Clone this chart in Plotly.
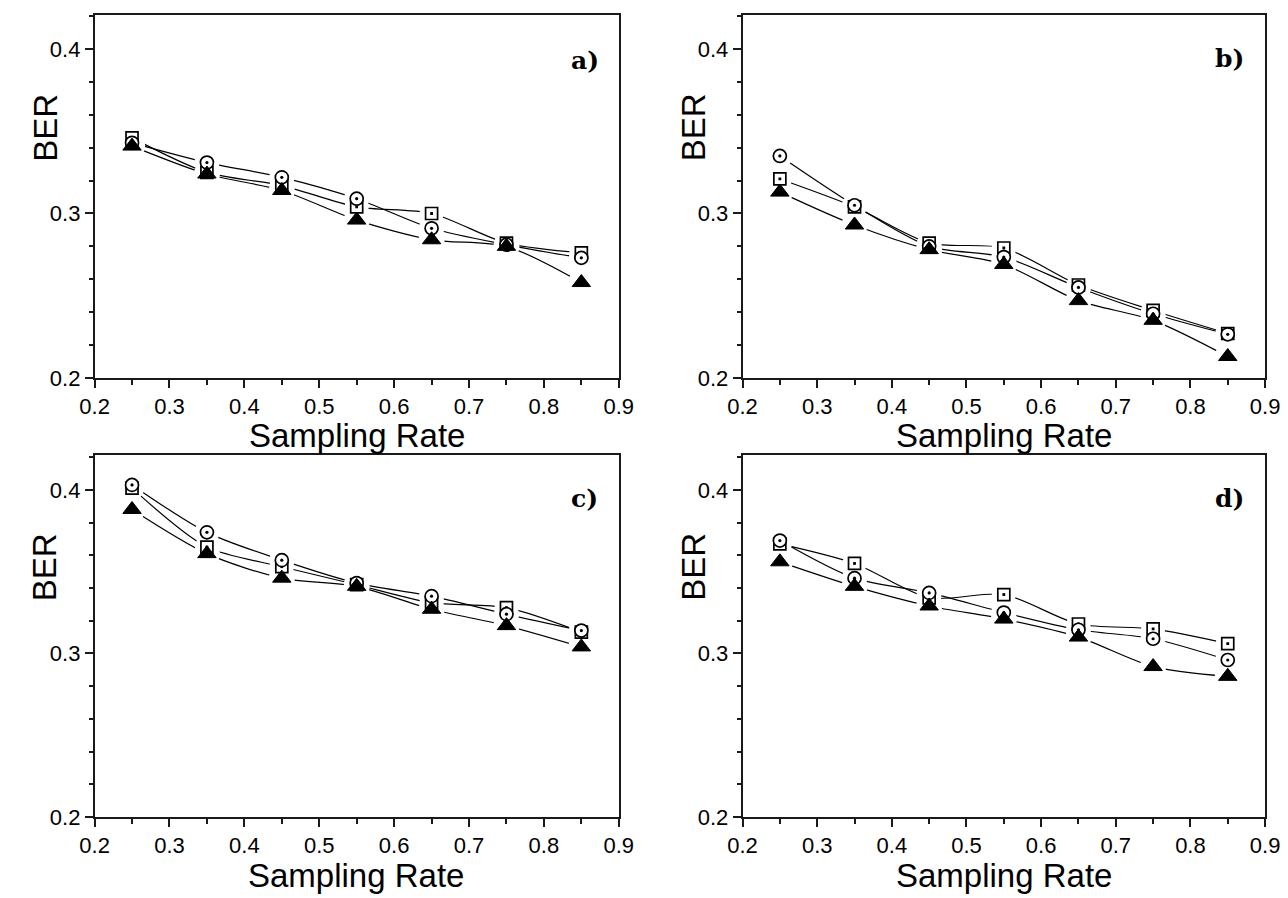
import plotly.graph_objects as go

W, H = 1288, 898

sampling_rate = [0.25, 0.35, 0.45, 0.55, 0.65, 0.75, 0.85]

a_square = [0.346, 0.325, 0.317, 0.304, 0.300, 0.282, 0.276]
a_circle = [0.343, 0.331, 0.322, 0.309, 0.291, 0.281, 0.273]
a_triangle = [0.341, 0.324, 0.314, 0.296, 0.284, 0.280, 0.258]

b_square = [0.321, 0.304, 0.282, 0.279, 0.2565, 0.241, 0.227]
b_circle = [0.335, 0.305, 0.280, 0.2735, 0.255, 0.239, 0.2265]
b_triangle = [0.313, 0.293, 0.278, 0.269, 0.247, 0.235, 0.213]

c_square = [0.401, 0.365, 0.353, 0.342, 0.331, 0.328, 0.313]
c_circle = [0.403, 0.374, 0.357, 0.343, 0.335, 0.324, 0.314]
c_triangle = [0.388, 0.361, 0.346, 0.341, 0.327, 0.317, 0.304]

d_square = [0.367, 0.355, 0.334, 0.336, 0.318, 0.315, 0.306]
d_circle = [0.369, 0.346, 0.337, 0.325, 0.3145, 0.309, 0.296]
d_triangle = [0.356, 0.341, 0.329, 0.321, 0.310, 0.292, 0.286]

panels = [
    ("a)", a_square, a_circle, a_triangle),
    ("b)", b_square, b_circle, b_triangle),
    ("c)", c_square, c_circle, c_triangle),
    ("d)", d_square, d_circle, d_triangle),
]

def px_x(p):
    return p / W

def px_y(p):
    return 1 - p / H

xdom = [[px_x(73.3), px_x(610)], [px_x(736.7), px_x(1271.7)]]
ydom = [[px_y(375.3), px_y(6.7)], [px_y(821), px_y(454)]]

fig = go.Figure()
AX = "#1a1a1a"
for i, (lab, sq, ci, tr) in enumerate(panels):
    r, c = divmod(i, 2)
    n = "" if i == 0 else str(i + 1)
    xa, ya = "x" + n, "y" + n
    # lines
    for ys in (sq, ci, tr):
        fig.add_trace(go.Scatter(x=sampling_rate, y=ys, mode="lines", xaxis=xa, yaxis=ya,
                                 line=dict(color="black", width=1.2, shape="spline", smoothing=0.8),
                                 showlegend=False, hoverinfo="skip"))
    # white halos to create gaps in lines around markers
    for ys, sz in ((sq, 24), (ci, 25), (tr, 26)):
        fig.add_trace(go.Scatter(x=sampling_rate, y=ys, mode="markers", xaxis=xa, yaxis=ya,
                                 marker=dict(symbol="circle", size=sz, color="white", line=dict(width=0)),
                                 showlegend=False, hoverinfo="skip"))
    # squares
    fig.add_trace(go.Scatter(x=sampling_rate, y=sq, mode="markers", xaxis=xa, yaxis=ya,
                             marker=dict(symbol="square", size=12, color="white",
                                         line=dict(color="black", width=1.7)),
                             showlegend=False))
    fig.add_trace(go.Scatter(x=sampling_rate, y=sq, mode="markers", xaxis=xa, yaxis=ya,
                             marker=dict(symbol="square", size=2.8, color="black", line=dict(width=0)),
                             showlegend=False, hoverinfo="skip"))
    # circles
    fig.add_trace(go.Scatter(x=sampling_rate, y=ci, mode="markers", xaxis=xa, yaxis=ya,
                             marker=dict(symbol="circle", size=13, color="white",
                                         line=dict(color="black", width=1.7)),
                             showlegend=False))
    fig.add_trace(go.Scatter(x=sampling_rate, y=ci, mode="markers", xaxis=xa, yaxis=ya,
                             marker=dict(symbol="circle", size=3.2, color="black", line=dict(width=0)),
                             showlegend=False, hoverinfo="skip"))
    # triangles
    fig.add_trace(go.Scatter(x=sampling_rate, y=tr, mode="markers", xaxis=xa, yaxis=ya,
                             marker=dict(symbol="triangle-up", size=16, color="black",
                                         line=dict(color="black", width=1)),
                             showlegend=False))

    axcommon = dict(showline=True, linecolor=AX, linewidth=1.6, mirror=True,
                    ticks="outside", ticklen=8, tickwidth=1.5, tickcolor=AX,
                    showgrid=False, zeroline=False,
                    tickfont=dict(family="Liberation Sans, Arial, sans-serif", size=22, color="black"))
    xkey = "xaxis" + n
    ykey = "yaxis" + n
    fig.update_layout({
        xkey: dict(domain=xdom[c], range=[0.2, 0.9], anchor=ya, dtick=0.1, tick0=0.2,
                   tickformat=".1f",
                   minor=dict(dtick=0.05, tick0=0.2, ticks="outside", ticklen=5, tickwidth=1.5, tickcolor=AX),
                   **axcommon),
        ykey: dict(domain=ydom[r], range=[0.2, 0.421], anchor=xa, dtick=0.1, tick0=0.2,
                   tickformat=".1f",
                   minor=dict(dtick=0.02, tick0=0.2, ticks="outside", ticklen=4, tickwidth=1.5, tickcolor=AX),
                   **axcommon),
    })

annotations = []
title_font = dict(family="Liberation Sans, Arial, sans-serif", size=33, color="black")
label_font = dict(family="DejaVu Serif, serif", size=25, color="black")
ber_pos = [(23, 121), (686, 121), (22, 567), (687, 567)]
sr_pos = [(341.7, 434), (1004, 434), (341, 880), (1004, 880)]
lab_pos = [(575.5, 53), (1235, 51), (575, 498), (1235, 498)]
for i, (lab, *_rest) in enumerate(panels):
    bx, by = ber_pos[i]
    annotations.append(dict(text="BER", x=px_x(bx), y=px_y(by), xref="paper", yref="paper",
                            showarrow=False, textangle=-90, font=title_font,
                            xanchor="center", yanchor="middle"))
    sx, sy = sr_pos[i]
    annotations.append(dict(text="Sampling Rate", x=px_x(sx), y=px_y(sy), xref="paper", yref="paper",
                            showarrow=False, font=title_font, xanchor="center", yanchor="middle"))
    lx, ly = lab_pos[i]
    annotations.append(dict(text="<b>" + lab + "</b>", x=px_x(lx), y=px_y(ly), xref="paper", yref="paper",
                            showarrow=False, font=label_font, xanchor="center", yanchor="middle"))

fig.update_layout(width=W, height=H, margin=dict(l=0, r=0, t=0, b=0),
                  paper_bgcolor="white", plot_bgcolor="white",
                  annotations=annotations, showlegend=False)

fig.write_html("out.html")
